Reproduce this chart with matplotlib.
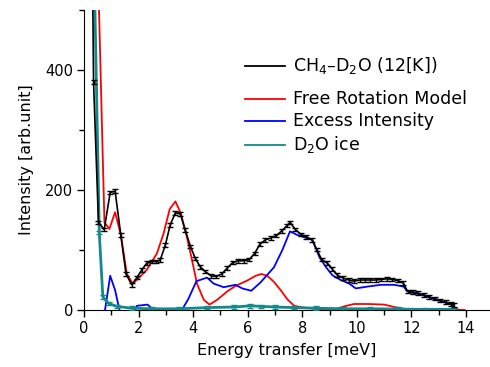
import matplotlib
matplotlib.use("Agg")
import matplotlib.pyplot as plt
from matplotlib.ticker import MultipleLocator
from matplotlib.lines import Line2D

plt.rcParams['font.family'] = ['DejaVu Sans']
plt.rcParams['mathtext.fontset'] = 'dejavusans'

# ---- data ----
exp_x = [0.14, 0.35, 0.53, 0.74, 0.96, 1.14, 1.35, 1.54, 1.75, 1.94, 2.12, 2.30, 2.49, 2.65,
         2.79, 2.98, 3.16, 3.35, 3.53, 3.71, 3.90, 4.08, 4.26, 4.45, 4.65, 4.85, 5.05, 5.25,
         5.45, 5.65, 5.85, 6.05, 6.25, 6.45, 6.65, 6.85, 7.05, 7.25, 7.45, 7.55, 7.75, 7.95,
         8.15, 8.35, 8.53, 8.71, 8.92, 9.10, 9.29, 9.50, 9.70, 9.90, 10.10, 10.30, 10.50,
         10.70, 10.90, 11.10, 11.30, 11.50, 11.70, 11.86, 12.05, 12.25, 12.45, 12.65, 12.85,
         13.05, 13.25, 13.45, 13.55]
exp_y = [1400, 380, 146, 134, 196, 198, 125, 60, 42, 54, 67, 78, 81, 81,
         83, 108, 142, 162, 160, 133, 106, 86, 72, 64, 57, 56, 60, 70,
         79, 82, 82, 84, 94, 110, 117, 120, 124, 132, 141, 146, 134, 126,
         122, 117, 101, 84, 78, 68, 58, 53, 50, 48, 50, 50, 50,
         50, 51, 52, 51, 49, 45, 31, 30, 28, 25, 22, 19,
         16, 13, 10, 8]

free_x = [0.45, 0.69, 0.75, 0.93, 1.14, 1.35, 1.57, 1.79, 2.00, 2.30, 2.67, 2.92, 3.14, 3.35,
          3.55, 3.77, 3.96, 4.14, 4.39, 4.60, 4.88, 5.25, 5.55, 5.98, 6.29, 6.50, 6.72, 6.96,
          7.21, 7.45, 7.70, 8.06, 8.67, 9.20, 9.53, 9.90, 10.40, 11.00, 11.37, 11.74, 12.20,
          13.00, 13.95]
free_y = [680, 250, 146, 135, 163, 125, 60, 44, 53, 67, 94, 128, 168, 181,
          161, 122, 83, 44, 17, 9, 17, 31, 40, 49, 57, 60, 57, 47,
          33, 18, 7, 4, 1, 1, 6, 10, 10, 9, 5, 2, 0.5,
          0.5, 0]

exc_x = [0.70, 0.77, 0.96, 1.14, 1.30, 1.54, 1.75, 1.94, 2.33, 2.55, 2.90, 3.30, 3.59, 3.83,
         4.12, 4.51, 4.75, 5.12, 5.55, 5.80, 6.13, 6.47, 6.96, 7.27, 7.55, 7.82, 8.37, 8.62,
         8.86, 9.10, 9.41, 9.72, 9.96, 10.39, 10.88, 11.37, 11.71, 11.86, 12.23, 12.60, 12.97,
         13.33, 13.55, 13.58]
exc_y = [-30, 0, 57, 33, 0, -20, -10, 7, 9, 0, -10, -12, 0, 19,
         48, 54, 44, 38, 42, 36, 32, 46, 71, 100, 131, 125, 117, 89,
         72, 58, 50, 44, 36, 39, 42, 42, 39, 31, 27, 22, 16,
         11, 8, -5]

ice_x = [0.35, 0.56, 0.69, 0.90, 1.20, 1.75, 2.50, 3.50, 4.50, 5.50, 6.10, 6.50, 7.00, 7.70,
         8.50, 9.50, 10.50, 11.50, 12.50, 13.60]
ice_y = [620, 129, 22, 11, 6, 3, 2, 2, 4, 5, 7, 6, 5, 4,
         3, 2, 2, 1.5, 1, 1]

labels = ['CH$_4$\u2013D$_2$O (12[K])', 'Free Rotation Model', 'Excess Intensity', 'D$_2$O ice']
colors = ['black', '#ff0000', '#0000ff', '#108a8a']

W, H = 490, 367
fig = plt.figure(figsize=(W / 100, H / 100), dpi=100)
ax = fig.add_axes([84 / W, 1 - 310 / H, 1 - 84 / W, 300 / H])

ax.plot(free_x, free_y, color=colors[1], lw=1.3, zorder=2)
ax.plot(exc_x, exc_y, color=colors[2], lw=1.3, zorder=2)
ax.errorbar(ice_x, ice_y, yerr=3, color=colors[3], lw=2.0, capsize=2, elinewidth=1,
            capthick=1, zorder=3)
ax.errorbar(exp_x, exp_y, yerr=3, color=colors[0], lw=1.2, capsize=2.5, elinewidth=1,
            capthick=1, zorder=4)

ax.set_xlim(0, 14.88)
ax.set_ylim(0, 500)
ax.spines['top'].set_visible(False)
ax.spines['right'].set_visible(False)
ax.xaxis.set_major_locator(MultipleLocator(2))
ax.xaxis.set_minor_locator(MultipleLocator(1))
ax.yaxis.set_major_locator(MultipleLocator(200))
ax.yaxis.set_minor_locator(MultipleLocator(100))
ax.tick_params(which='major', direction='out', length=5, width=1, labelsize=10.5, pad=3)
ax.tick_params(which='minor', direction='out', length=3.5, width=1)
ax.set_xlabel('Energy transfer [meV]', fontsize=11.5, labelpad=5)
ax.set_ylabel('Intensity [arb.unit]', fontsize=11.5, labelpad=8)

# manual legend
row_y = [66, 99, 121, 145]
for lab, c, yy in zip(labels, colors, row_y):
    fy = 1 - yy / H
    fig.add_artist(Line2D([245 / W, 285 / W], [fy, fy], color=c, lw=1.3,
                          transform=fig.transFigure))
    fig.text(293 / W, fy, lab, fontsize=12.5, va='center', ha='left')

fig.savefig('out.png', dpi=100)
